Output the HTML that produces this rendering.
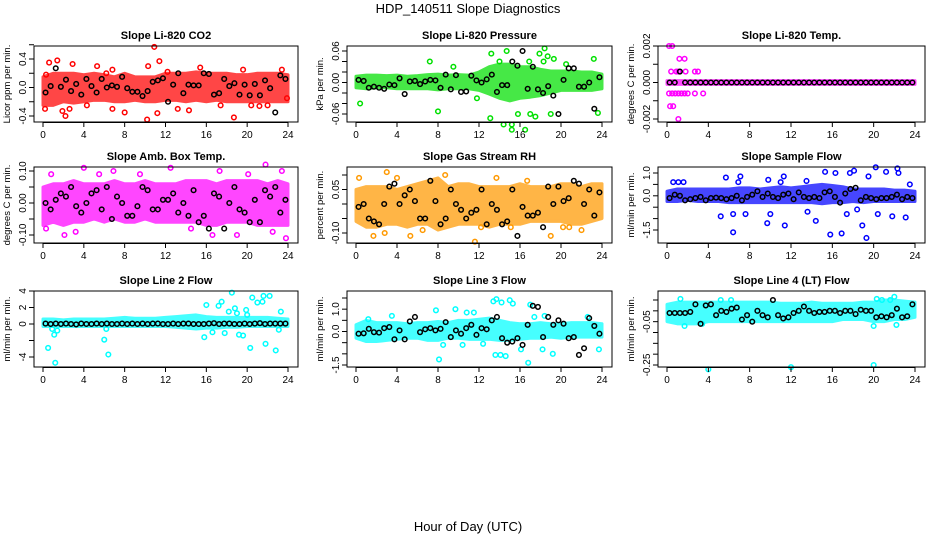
<!DOCTYPE html>
<html><head><meta charset="utf-8"><style>
body{margin:0;background:#fff}
svg{display:block;font-family:"Liberation Sans",Arial,sans-serif}
</style></head><body>
<svg id="chart" width="936" height="540" viewBox="0 0 936 540">
<text x="468" y="13" text-anchor="middle" font-size="13">HDP_140511  Slope Diagnostics</text>
<text x="468" y="531" text-anchor="middle" font-size="13">Hour of Day (UTC)</text>
</svg>
<script>
const hourTicks=[0,4,8,12,16,20,24];
const blackHours=[0,0.5,1,1.5,2,2.5,3,3.5,4,4.5,5,5.5,6,6.5,7,7.5,8,8.5,9,9.5,10,10.5,11,11.5,12,12.5,13,13.5,14,14.5,15,15.5,16,16.5,17,17.5,18,18.5,19,19.5,20,20.5,21,21.5,22,22.5,23,23.5];
const bandHours=[0,1,2,3,4,5,6,7,8,9,10,11,12,13,14,15,16,17,18,19,20,21,22,23,24];
const panelTitles=["Slope Li-820 CO2","Slope Li-820 Pressure","Slope Li-820 Temp.","Slope Amb. Box Temp.","Slope Gas Stream RH","Slope Sample Flow","Slope Line 2 Flow","Slope Line 3 Flow","Slope Line 4 (LT) Flow"];
const yTitles=["Licor ppm per min.","kPa per min.","degrees C per min.","degrees C per min.","percent per min.","ml/min per min.","ml/min per min.","ml/min per min.","ml/min per min."];
const seriesColors=["#ff0000","#00e000","#ff00ff","#ff00ff","#ff9900","#0000ff","#00ffff","#00ffff","#00ffff"];
const yTicks=[[-0.4,-0.2,0,0.2,0.4,0.6],[-0.06,-0.04,-0.02,0,0.02,0.04,0.06],[-0.002,-0.001,0,0.001,0.002],[-0.1,-0.05,0,0.05,0.1],[-0.1,-0.05,0,0.05,0.1],[-1.5,-1,-0.5,0,0.5,1],[-4,-2,0,2,4],[-1.5,-1,-0.5,0,0.5,1,1.5],[-0.25,-0.2,-0.15,-0.1,-0.05,0,0.05]];
const yTickLabels=[["-0.4","","0.0","","0.4",""],["-0.06","","","0.00","","","0.06"],["-0.002","","0.000","","0.002"],["-0.10","","0.00","","0.10"],["-0.10","","","0.05",""],["-1.5","","","0.0","","1.0"],["-4","","0","2","4"],["-1.5","","","0.0","","1.0",""],["-0.25","","","","-0.05","",""]];
const yRefVals=[[0.4,-0.4],[0.06,-0.06],[0.002,-0.002],[0.1,-0.1],[0.1,-0.1],[1.0,-1.5],[4,-4],[1.5,-1.5],[0.05,-0.25]];

const bandLo=[
[-0.25,-0.25,-0.2,-0.22,-0.2,-0.18,-0.18,-0.2,-0.2,-0.18,-0.2,-0.2,-0.18,-0.18,-0.2,-0.18,-0.2,-0.18,-0.2,-0.2,-0.2,-0.2,-0.2,-0.2,-0.2],
[-0.01,-0.012,-0.01,-0.01,-0.012,-0.012,-0.012,-0.012,-0.014,-0.012,-0.012,-0.012,-0.015,-0.022,-0.03,-0.035,-0.03,-0.028,-0.025,-0.02,-0.015,-0.015,-0.015,-0.015,-0.012],
[-0.0001,-0.0001,-0.0001,-0.0001,-0.0001,-0.0001,-0.0001,-0.0001,-0.0001,-0.0001,-0.0001,-0.0001,-0.0001,-0.0001,-0.0001,-0.0001,-0.0001,-0.0001,-0.0001,-0.0001,-0.0001,-0.0001,-0.0001,-0.0001,-0.0001],
[-0.07,-0.06,-0.07,-0.06,-0.06,-0.05,-0.06,-0.05,-0.06,-0.06,-0.05,-0.06,-0.06,-0.06,-0.06,-0.06,-0.07,-0.07,-0.06,-0.06,-0.06,-0.07,-0.07,-0.07,-0.07],
[-0.06,-0.08,-0.08,-0.07,-0.07,-0.08,-0.07,-0.07,-0.09,-0.08,-0.07,-0.07,-0.07,-0.08,-0.07,-0.07,-0.07,-0.06,-0.06,-0.06,-0.06,-0.07,-0.07,-0.06,-0.05],
[-0.25,-0.25,-0.2,-0.25,-0.25,-0.25,-0.3,-0.3,-0.3,-0.3,-0.3,-0.3,-0.3,-0.3,-0.3,-0.35,-0.3,-0.3,-0.25,-0.3,-0.25,-0.25,-0.25,-0.25,-0.25],
[-0.3,-0.3,-0.3,-0.3,-0.3,-0.3,-0.3,-0.3,-0.3,-0.3,-0.3,-0.3,-0.3,-0.4,-0.5,-0.6,-0.5,-0.5,-0.4,-0.4,-0.3,-0.3,-0.3,-0.3,-0.3],
[-0.3,-0.45,-0.45,-0.4,-0.35,-0.3,-0.3,-0.4,-0.4,-0.3,-0.3,-0.35,-0.35,-0.35,-0.4,-0.4,-0.35,-0.3,-0.3,-0.25,-0.3,-0.25,-0.25,-0.25,-0.25],
[-0.05,-0.06,-0.06,-0.06,-0.05,-0.05,-0.05,-0.05,-0.05,-0.05,-0.05,-0.05,-0.05,-0.05,-0.05,-0.05,-0.05,-0.04,-0.04,-0.04,-0.05,-0.05,-0.04,-0.04,-0.03]];
const bandHi=[
[0.15,0.2,0.2,0.2,0.18,0.2,0.18,0.15,0.2,0.15,0.15,0.15,0.2,0.2,0.2,0.22,0.2,0.2,0.2,0.18,0.18,0.2,0.2,0.2,0.18],
[0.012,0.014,0.014,0.013,0.014,0.012,0.013,0.015,0.016,0.014,0.015,0.014,0.02,0.03,0.035,0.035,0.03,0.03,0.025,0.022,0.022,0.022,0.02,0.02,0.016],
[0.0001,0.0001,0.0001,0.0001,0.0001,0.0001,0.0001,0.0001,0.0001,0.0001,0.0001,0.0001,0.0001,0.0001,0.0001,0.0001,0.0001,0.0001,0.0001,0.0001,0.0001,0.0001,0.0001,0.0001,0.0001],
[0.05,0.06,0.06,0.07,0.06,0.06,0.06,0.07,0.06,0.06,0.07,0.06,0.06,0.06,0.07,0.07,0.07,0.06,0.07,0.07,0.07,0.07,0.06,0.07,0.06],
[0.05,0.06,0.06,0.06,0.05,0.06,0.07,0.08,0.09,0.06,0.07,0.07,0.06,0.06,0.06,0.06,0.07,0.06,0.06,0.06,0.07,0.07,0.06,0.07,0.07],
[0.2,0.3,0.3,0.3,0.3,0.3,0.3,0.35,0.35,0.3,0.35,0.4,0.35,0.4,0.45,0.5,0.45,0.4,0.3,0.3,0.3,0.3,0.25,0.25,0.2],
[0.6,0.6,0.5,0.6,0.6,0.6,0.6,0.7,0.8,0.7,0.7,0.7,0.8,0.9,1.0,1.1,0.9,0.8,0.8,0.8,0.8,0.8,0.8,0.7,0.6],
[0.3,0.5,0.4,0.4,0.4,0.35,0.4,0.4,0.45,0.4,0.5,0.5,0.55,0.6,0.5,0.4,0.35,0.35,0.4,0.35,0.35,0.4,0.4,0.4,0.35],
[0.03,0.04,0.04,0.04,0.04,0.04,0.04,0.04,0.04,0.04,0.04,0.035,0.035,0.035,0.04,0.035,0.035,0.035,0.035,0.04,0.04,0.05,0.05,0.045,0.04]];
const scatterPts=[
[[0.2,-0.3],[0.3,0.18],[0.6,0.35],[1.4,0.38],[1.9,-0.33],[2.2,-0.4],[2.6,-0.3],[2.9,0.33],[4.3,-0.25],[5.3,0.3],[6.8,-0.3],[6.8,0.25],[8.0,-0.35],[10.2,-0.45],[10.3,0.3],[10.9,0.57],[11.2,-0.36],[11.4,0.37],[13.2,-0.3],[14.3,-0.32],[15.4,0.28],[17.4,-0.25],[18.7,-0.42],[19.6,0.25],[20.4,-0.25],[21.2,-0.26],[22.0,-0.25],[23.4,0.25],[23.9,-0.15],[6.2,0.2],[12.2,0.22]],
[[0.4,-0.04],[7.2,0.04],[8.0,-0.055],[13.2,0.055],[14.7,0.06],[13.1,-0.068],[14.4,-0.08],[15.2,-0.09],[15.2,-0.08],[16.5,-0.09],[17.5,-0.065],[17.9,0.055],[18.4,0.065],[18.7,0.05],[18.3,0.04],[19.3,0.045],[19.0,-0.06],[20.5,0.035],[23.2,0.045],[23.6,-0.058],[15.8,-0.06],[17.0,-0.06],[16.9,0.04],[14.0,0.04],[9.5,0.03],[11.8,-0.03]],
[[0.2,0.002],[0.5,0.002],[0.3,-0.0013],[0.6,-0.0013],[1.1,-0.002],[1.2,0.0013],[1.7,0.0013],[0.4,0.0006],[0.9,0.0006],[1.8,0.0006],[2.7,0.0006],[3.0,0.0006],[0.2,-0.0006],[0.8,-0.0006],[1.4,-0.0006],[2.0,-0.0006],[2.7,-0.0006],[3.5,-0.0006],[1.1,0.0006],[0.5,-0.0006],[1.1,-0.0006],[1.7,-0.0006]],
[[0.8,0.09],[2.1,-0.1],[4.0,0.11],[6.9,0.1],[9.5,0.09],[12.5,0.11],[16.6,-0.1],[17.3,0.1],[19.0,-0.1],[21.8,0.12],[23.4,0.1],[23.8,-0.11],[0.3,-0.08],[3.2,-0.09],[5.5,0.09],[14.5,-0.08],[20.1,0.09],[22.5,-0.09]],
[[0.3,0.09],[3.0,0.11],[4.0,0.09],[2.8,-0.1],[5.3,-0.11],[6.5,-0.09],[8.7,0.1],[11.6,-0.13],[12.2,-0.08],[13.7,0.09],[15.1,-0.08],[16.7,0.08],[19.0,-0.11],[20.2,-0.08],[20.8,-0.08],[22.0,-0.09],[1.7,-0.11]],
[[0.6,0.6],[1.1,0.6],[1.6,0.6],[5.2,-0.9],[5.7,0.8],[6.4,-1.6],[6.4,-0.8],[7.6,-0.8],[7.1,0.85],[6.9,0.6],[9.7,-1.2],[10.0,-0.8],[11.4,-1.3],[11.0,0.6],[11.3,0.85],[13.6,-0.7],[14.4,-1.1],[15.3,1.05],[15.8,-1.7],[16.3,1.0],[16.9,-1.65],[17.4,-0.8],[17.7,1.0],[18.1,1.1],[18.9,-1.3],[19.3,-1.85],[19.5,0.85],[20.2,1.25],[20.4,-0.8],[21.2,1.05],[21.8,-0.9],[22.3,1.2],[22.4,1.0],[23.1,-0.95],[23.5,0.5],[9.8,0.7],[13.5,0.65],[18.4,-0.6]],
[[0.5,-2.9],[1.2,-4.7],[0.9,-0.6],[1.1,-1.3],[1.4,-0.8],[6.0,-1.9],[6.2,-0.6],[6.4,-3.7],[15.8,-1.6],[16.0,2.3],[16.6,-1.0],[17.2,2.2],[17.5,2.7],[17.8,-1.1],[18.2,1.5],[19.0,1.3],[18.5,3.8],[18.8,1.9],[19.2,-1.3],[19.6,-1.4],[20.0,1.1],[20.5,3.2],[20.3,-2.9],[21.0,2.6],[21.5,2.7],[21.6,3.4],[22.2,3.4],[21.8,-2.4],[22.8,-3.2],[23.3,1.5],[23.1,-0.7],[19.9,1.7]],
[[1.2,0.55],[3.5,0.7],[7.8,0.95],[8.1,-1.25],[8.5,-0.6],[9.7,1.0],[10.8,0.85],[11.5,0.85],[13.7,1.45],[13.4,1.35],[14.2,1.3],[15.0,1.4],[15.3,1.25],[13.6,-1.05],[14.1,-1.05],[14.6,-1.1],[16.1,-0.8],[17.0,1.2],[17.4,0.65],[18.2,-0.8],[18.4,0.7],[19.2,-1.0],[16.8,-1.4],[22.6,0.65],[23.7,-0.8],[10.4,-0.6],[12.4,-0.55]],
[[1.3,0.055],[4.0,-0.27],[5.2,0.05],[6.2,0.05],[12.0,-0.26],[20.0,-0.25],[20.0,-0.07],[20.3,0.055],[20.8,0.05],[21.6,0.05],[22.0,0.065],[22.2,-0.065],[1.7,-0.07],[3.4,-0.06]]];
const blackVals=[
[-0.07,0.02,0.27,0.01,0.11,-0.05,0.05,-0.1,0.12,0.02,-0.07,0.12,0,0.03,0.01,0.15,-0.01,-0.06,-0.06,-0.12,-0.05,0.08,0.1,0.13,-0.2,0.04,0.2,-0.08,0.04,0.03,0.03,0.2,0.19,-0.1,-0.08,0.12,0.02,0.06,-0.1,0.04,-0.11,0.05,-0.11,0.1,-0.01,-0.35,0.17,0.12],
[0.005,0.003,-0.01,-0.008,-0.01,-0.012,-0.004,-0.005,0.008,-0.022,0.002,0.003,-0.003,0.002,0.005,0.004,-0.01,0.015,-0.013,0.014,-0.018,-0.017,0.013,0.004,0.0,0.006,0.015,-0.018,-0.005,-0.005,0.04,0.032,0.06,-0.012,0.03,-0.013,-0.02,-0.007,-0.025,-0.06,0.005,0.027,0.027,-0.008,-0.008,0.0,-0.05,0.01],
[0,0,0.0006,0,0,0,0,0,0,0,0,0,0,0,0,0,0,0,0,0,0,0,0,0,0,0,0,0,0,0,0,0,0,0,0,0,0,0,0,0,0,0,0,0,0,0,0,0],
[0.0,-0.02,0.01,0.03,0.02,0.05,-0.01,-0.03,0.0,0.03,0.04,-0.02,0.05,-0.05,0.02,0.0,-0.04,-0.04,-0.01,0.05,0.04,-0.02,-0.02,0.01,0.01,0.03,-0.03,0.0,-0.04,0.04,-0.06,-0.04,-0.08,0.03,0.02,-0.08,0.0,0.05,-0.02,-0.03,-0.06,0.01,-0.06,0.04,0.02,0.05,-0.03,0.01],
[-0.01,0.0,-0.05,-0.06,-0.07,0.0,0.06,0.07,0.0,0.03,0.05,0.01,-0.05,-0.05,0.08,0.01,-0.07,-0.05,0.05,0.0,-0.02,-0.05,-0.03,-0.02,0.05,-0.07,0.0,-0.02,-0.07,-0.06,0.05,-0.11,-0.01,-0.04,-0.04,-0.03,-0.08,0.06,0.0,0.06,0.01,0.02,0.08,0.07,0.0,0.05,-0.04,0.04],
[-0.1,0.05,0.0,-0.2,-0.15,-0.1,-0.05,-0.2,-0.1,-0.08,-0.1,-0.15,-0.1,0.0,-0.2,-0.05,0.05,0.2,-0.05,0.1,-0.05,-0.1,0.05,0.1,-0.15,0.15,-0.05,-0.1,-0.05,-0.1,0.15,0.2,-0.05,-0.3,0.1,0.3,0.35,-0.2,-0.05,-0.1,-0.15,-0.1,-0.1,-0.05,0.05,-0.15,-0.05,-0.1],
[0.05,0.0,0.05,0.0,0.05,0.0,-0.05,0.05,0.0,0.0,0.05,0.0,0.05,0.0,0.0,0.05,0.0,0.05,0.0,0.05,0.0,0.05,0.05,0.0,0.0,0.05,0.0,0.05,0.05,0.0,0.0,0.0,0.05,0.1,0.0,0.05,0.05,0.0,0.0,0.05,0.0,0.05,0.1,0.0,0.05,0.05,0.05,0.05],
[-0.1,-0.08,0.12,-0.03,-0.05,0.15,0.2,-0.35,0.05,-0.35,0.45,0.65,-0.03,0.1,0.15,0.05,0.12,0.42,-0.25,0.05,-0.1,0.15,0.3,-0.15,0.15,0.1,0.5,0.65,-0.3,-0.5,-0.45,-0.3,-0.6,0.3,1.15,1.1,-0.25,0.65,0.3,0.5,0.35,-0.3,-0.25,-1.05,-0.75,0.6,0.25,-0.1],
[-0.01,-0.01,-0.01,-0.01,-0.005,0.03,-0.06,0.025,0.03,-0.02,0.0,-0.005,0.01,0.015,-0.04,-0.02,-0.05,0.0,-0.02,-0.03,0.05,-0.02,-0.035,-0.03,-0.01,0.0,0.02,0.0,-0.01,-0.005,-0.005,0.0,0.0,-0.01,0.0,0.0,-0.015,0.005,0.0,0.0,-0.03,-0.025,-0.03,-0.02,0.01,-0.03,-0.025,0.03]];

const colLeft=[34,347,658], colW=[264,265,267], rowTop=[46,167,291], boxH=76;
const yRefPx=[[13,70],[5,68],[0,73],[4,68],[8,66],[6,63],[0,66],[7,74],[9,74]];
const NS="http://www.w3.org/2000/svg";
const svg=document.getElementById('chart');
function mk(tag,attrs,parent){const e=document.createElementNS(NS,tag);for(const k in attrs)e.setAttribute(k,attrs[k]);(parent||svg).appendChild(e);return e;}

for(let p=0;p<9;p++){
  const L=colLeft[p%3], W=colW[p%3], T=rowTop[Math.floor(p/3)];
  const xs=h=>L+9+(W-19)*h/24;
  const [v1,v2]=yRefVals[p],[p1,p2]=yRefPx[p];
  const ys=v=>T+p1+(v-v1)*(p2-p1)/(v2-v1);
  const g=mk('g',{});
  
  
  const t=mk('text',{x:L+W/2,y:T-7,'text-anchor':'middle','font-size':11,'font-weight':'bold'},g);
  t.textContent=panelTitles[p];
  
  
  let pts=bandHours.map((h,i)=>xs(h)+','+ys(bandHi[p][i]));
  pts=pts.concat(bandHours.slice().reverse().map((h,j)=>{const i=bandHours.length-1-j;return xs(h)+','+ys(bandLo[p][i]);}));
  const band=mk('polygon',{points:pts.join(' '),fill:seriesColors[p],stroke:seriesColors[p],'stroke-width':3,'stroke-linejoin':'round',opacity:0.72},g);
  
  
  scatterPts[p].forEach(d=>{
    const c=mk('circle',{cx:xs(d[0]),cy:ys(d[1]),r:2.3,fill:'none',stroke:seriesColors[p],'stroke-width':1.5},g);
    
    
  });
  blackVals[p].forEach((v,i)=>{
    const c=mk('circle',{cx:xs(blackHours[i]+0.25),cy:ys(v),r:2.3,fill:'none',stroke:'#000','stroke-width':1.5},g);
    
    
  });
  const box=mk('rect',{x:L,y:T,width:W,height:boxH,fill:'none',stroke:'#000','stroke-width':1},g);
  
  
  mk('line',{x1:xs(0),x2:xs(24),y1:T+boxH+0.5,y2:T+boxH+0.5,stroke:'#000'},g);
  hourTicks.forEach(h=>{
    mk('line',{x1:xs(h),x2:xs(h),y1:T+boxH,y2:T+boxH+5,stroke:'#000'},g);
    const tx=mk('text',{x:xs(h),y:T+boxH+16,'text-anchor':'middle','font-size':10},g);tx.textContent=h;
    
    
  });
  yTicks[p].forEach((v,i)=>{
    const y=ys(v);
    mk('line',{x1:L-5,x2:L,y1:y,y2:y,stroke:'#000'},g);
    const lab=yTickLabels[p][i];
    if(lab){const tx=mk('text',{x:L-8,y:y,'text-anchor':'middle','font-size':10,transform:`rotate(-90 ${L-8} ${y})`},g);tx.textContent=lab;
      
      }
  });
  const yt=mk('text',{x:L-24,y:T+boxH/2,'text-anchor':'middle','font-size':9.5,transform:`rotate(-90 ${L-24} ${T+boxH/2})`},g);
  yt.textContent=yTitles[p];
  
  
}
</script>
</body></html>
